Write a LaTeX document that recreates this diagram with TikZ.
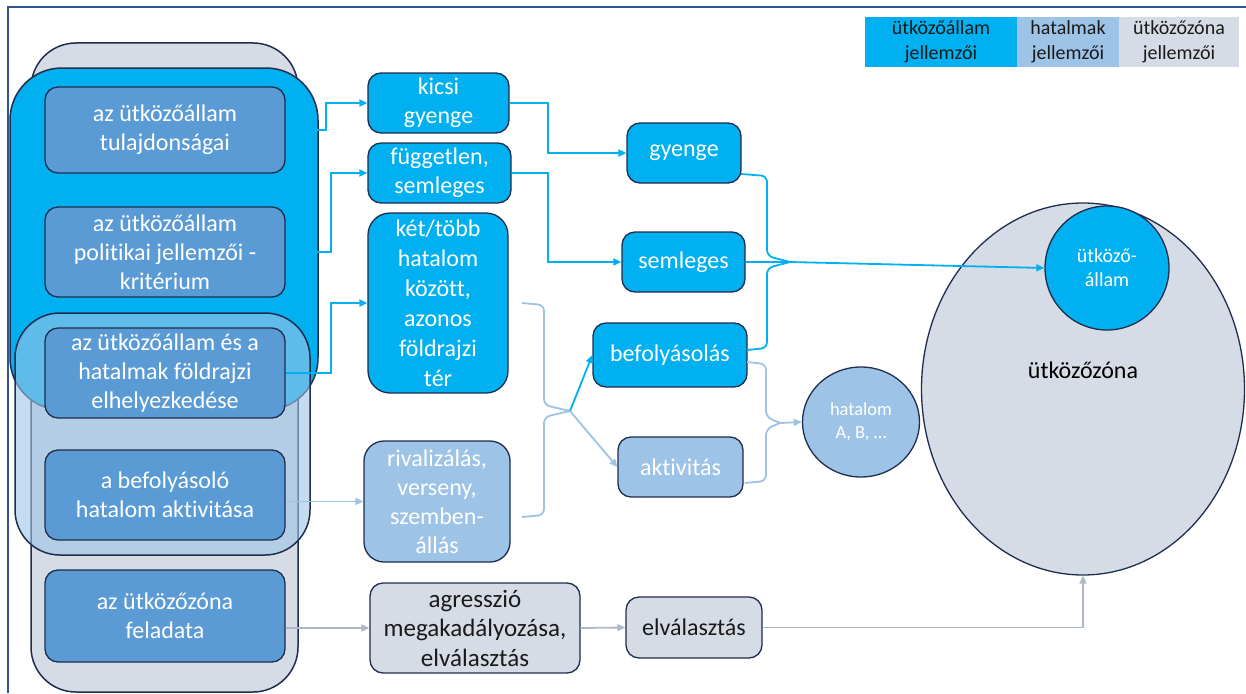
\documentclass[tikz,border=0pt]{standalone}
\usepackage{fontspec}
\setmainfont{Carlito}[Ligatures=NoCommon]
\usetikzlibrary{arrows.meta,shapes.geometric}
\definecolor{bb}{HTML}{00B0F0}
\definecolor{mb}{HTML}{5B9BD5}
\definecolor{lb}{HTML}{9DC3E6}
\definecolor{gz}{HTML}{D6DCE5}
\definecolor{nav}{HTML}{1F2D4E}
\definecolor{framec}{HTML}{2F5597}
\definecolor{gline}{HTML}{ADB9CA}
\definecolor{dtext}{HTML}{1A1A1A}
\begin{document}
\begin{tikzpicture}[x=1pt,y=-1pt,
  box/.style={draw=nav, line width=1.3pt, rounded corners=13pt, align=center, inner sep=0pt,
              font=\fontsize{24}{29}\selectfont, text=white},
  leftbox/.style={box, fill=mb, minimum width=240pt},
  bbox/.style={box, fill=bb},
  lbox/.style={box, fill=lb},
  gbox/.style={box, fill=gz, text=dtext},
  legbox/.style={inner sep=0pt, align=center, font=\fontsize{20}{25}\selectfont, text=dtext, minimum height=50pt},
  conn/.style={line width=1.8pt},
  tip/.style={-{Triangle[length=8pt,width=7pt]}},
  bbl/.style={conn, draw=bb},
  lbl/.style={conn, draw=lb},
  gl/.style={conn, draw=gline},
]
\useasboundingbox (0,0) rectangle (1246,693);
\fill[white] (0,0) rectangle (1246,693);

% left grouping shapes
\draw[nav, line width=1.5pt, fill=gz, rounded corners=45pt] (31,43) rectangle (298,692);
\draw[nav, line width=1.5pt, fill=bb, rounded corners=52pt] (10,68) rectangle (318,410);
\draw[nav, line width=1.5pt, fill=lb, fill opacity=0.6, rounded corners=45pt] (15,313) rectangle (310,555);

% frame
\draw[framec, line width=2pt] (8,693) -- (8,7) -- (1246,7);

% legend
\node[legbox, fill=bb, minimum width=152pt] (leg1) at (941,42) {ütközőállam\\jellemzői};
\node[legbox, fill=lb, minimum width=102pt] (leg2) at (1068,42) {hatalmak\\jellemzői};
\node[legbox, fill=gz, minimum width=120pt] (leg3) at (1179,42) {ütközőzóna\\jellemzői};

% left boxes
\node[leftbox, minimum height=86pt] (L1) at (165,130) {az ütközőállam\\tulajdonságai};
\node[leftbox, minimum height=90pt] (L2) at (165,252) {az ütközőállam\\politikai jellemzői -\\kritérium};
\node[leftbox, minimum height=90pt] (L3) at (165,373) {az ütközőállam és a\\hatalmak földrajzi\\elhelyezkedése};
\node[leftbox, minimum height=90pt] (L4) at (165,495) {a befolyásoló\\hatalom aktivitása};
\node[leftbox, minimum height=92pt] (L5) at (165,616) {az ütközőzóna\\feladata};

% middle boxes
\node[bbox, minimum width=141pt, minimum height=60pt] (kicsi) at (438.5,103) {kicsi\\gyenge};
\node[bbox, minimum width=143pt, minimum height=60pt] (fugg) at (439.5,173) {független,\\semleges};
\node[bbox, minimum width=140pt, minimum height=180pt, rounded corners=22pt, font=\fontsize{24}{30}\selectfont] (ket) at (438,303) {két/több\\hatalom\\között,\\azonos\\földrajzi\\tér};
\node[lbox, minimum width=146pt, minimum height=121pt, rounded corners=20pt] (riv) at (437,501.5) {rivalizálás,\\verseny,\\szemben-\\állás};
\node[gbox, minimum width=210pt, minimum height=90pt, font=\fontsize{25}{29.5}\selectfont] (agr) at (475,628) {agresszió\\megakadályozása,\\elválasztás};

% right boxes
\node[bbox, minimum width=114pt, minimum height=60pt] (gyenge) at (684,153) {gyenge};
\node[bbox, minimum width=123pt, minimum height=60pt] (seml) at (683.5,262) {semleges};
\node[bbox, minimum width=154pt, minimum height=64pt] (befoly) at (670,355) {befolyásolás};
\node[lbox, minimum width=125pt, minimum height=60pt] (aktiv) at (680.5,467) {aktivitás};
\node[gbox, minimum width=136pt, minimum height=61pt] (elval) at (694,627.5) {elválasztás};

% circles
\node[ellipse, draw=nav, line width=1.3pt, fill=gz, minimum width=323pt, minimum height=372pt] (zona) at (1083,389) {};
\node[font=\fontsize{24}{29}\selectfont, text=black] (zonatxt) at (1083,370) {ütközőzóna};
\node[circle, draw=nav, line width=1.3pt, fill=bb, minimum size=124pt, align=center, inner sep=0pt,
      text=white, font=\fontsize{20}{24}\selectfont] (allam) at (1107,268) {ütköző-\\állam};
\node[ellipse, draw=nav, line width=1.3pt, fill=lb, minimum width=117pt, minimum height=110pt, align=center, inner sep=0pt,
      text=white, font=\fontsize{18.5}{23}\selectfont] (hat) at (861,422) {hatalom\\A, B, \dots};

% connectors left -> middle
\draw[bbl, tip] (L1.east) -- ++(40,0) |- (kicsi.west);
\draw[bbl, tip] (L2.east) -- ++(45,0) |- (fugg.west);
\draw[bbl, tip] (L3.east) -- ++(45,0) |- (ket.west);
\draw[lbl, tip] (riv.west -| L4.east) -- (riv.west);
\draw[gl, tip] (agr.west -| L5.east) -- (agr.west);

% middle -> right
\draw[bbl, tip] (kicsi.east) -- ++(38,0) |- (gyenge.west);
\draw[bbl, tip] (fugg.east) -- ++(36,0) |- (seml.west);

% brace 1
\coordinate (b1a) at (522,303);
\coordinate (b1b) at (522,517);
\coordinate (T1) at (570,411);
\draw[lbl, rounded corners=6pt] (b1a) -- (544,305) -- (544,405) -- (T1);
\draw[lbl, rounded corners=6pt] (b1b) -- (544,515) -- (544,417) -- (T1);
\draw[bbl, tip] (T1) -- (befoly.west);
\draw[lbl, tip] (T1) -- (aktiv.west);

% brace 2
\coordinate (g2) at (741,174);
\coordinate (bf2) at (747,350);
\coordinate (T2) at (790,262);
\draw[bbl, rounded corners=6pt] (g2) -- (767,176) -- (767,256) -- (T2);
\draw[bbl, rounded corners=6pt] (bf2) -- (767,348) -- (767,268) -- (T2);
\draw[bbl] (seml.east) -- (T2);
\draw[bbl, tip] (T2) -- (allam.west);

% brace 3
\coordinate (bf3) at (747,362);
\coordinate (ak3) at (745,483);
\coordinate (T3) at (780,423);
\draw[lbl, rounded corners=6pt] (bf3) -- (766,364) -- (766,417) -- (T3);
\draw[lbl, rounded corners=6pt] (ak3) -- (766,481) -- (766,429) -- (T3);
\draw[lbl, tip] (T3) -- (hat.west);

% bottom row
\draw[gl, tip] (agr.east) -- (elval.west);
\draw[gl, tip] (elval.east) -| (zona.south);
\end{tikzpicture}
\end{document}
